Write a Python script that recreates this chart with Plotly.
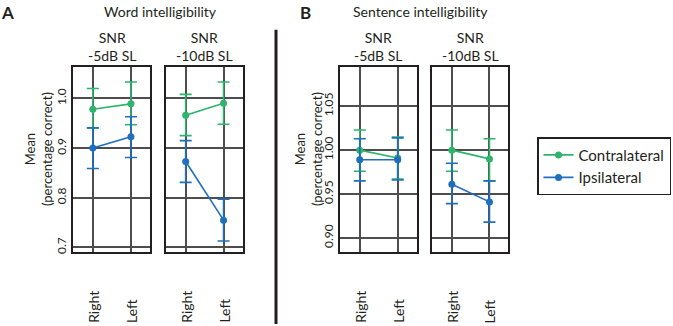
import plotly.graph_objects as go

W, H = 673, 326
FONT = "Lato"
TXT = "#231f20"
GREEN = "#2eb46c"
BLUE = "#1f6fbf"

categories = ["Right", "Left"]
panel_titles = ["SNR<br>-5dB SL", "SNR<br>-10dB SL", "SNR<br>-5dB SL", "SNR<br>-10dB SL"]
series_names = ["Contralateral", "Ipsilateral"]

# Word intelligibility (panel A)
word_5_contra_mean = [0.978, 0.989]
word_5_contra_hi = [1.020, 1.033]
word_5_contra_lo = [0.940, 0.947]
word_5_ipsi_mean = [0.900, 0.923]
word_5_ipsi_hi = [0.941, 0.963]
word_5_ipsi_lo = [0.859, 0.881]
word_10_contra_mean = [0.966, 0.990]
word_10_contra_hi = [1.008, 1.033]
word_10_contra_lo = [0.925, 0.948]
word_10_ipsi_mean = [0.873, 0.755]
word_10_ipsi_hi = [0.915, 0.797]
word_10_ipsi_lo = [0.831, 0.713]

# Sentence intelligibility (panel B)
sent_5_contra_mean = [1.000, 0.991]
sent_5_contra_hi = [1.023, 1.015]
sent_5_contra_lo = [0.976, 0.967]
sent_5_ipsi_mean = [0.989, 0.989]
sent_5_ipsi_hi = [1.013, 1.014]
sent_5_ipsi_lo = [0.965, 0.966]
sent_10_contra_mean = [1.000, 0.990]
sent_10_contra_hi = [1.023, 1.013]
sent_10_contra_lo = [0.976, 0.965]
sent_10_ipsi_mean = [0.961, 0.941]
sent_10_ipsi_hi = [0.985, 0.965]
sent_10_ipsi_lo = [0.939, 0.918]

word_ticks = [0.7, 0.8, 0.9, 1.0]
word_ticktext = ["0.7", "0.8", "0.9", "1.0"]
sent_ticks = [0.90, 0.95, 1.00, 1.05]
sent_ticktext = ["0.90", "0.95", "1.00", "1.05"]

panels = [
    (word_5_contra_mean, word_5_contra_hi, word_5_contra_lo, word_5_ipsi_mean, word_5_ipsi_hi, word_5_ipsi_lo),
    (word_10_contra_mean, word_10_contra_hi, word_10_contra_lo, word_10_ipsi_mean, word_10_ipsi_hi, word_10_ipsi_lo),
    (sent_5_contra_mean, sent_5_contra_hi, sent_5_contra_lo, sent_5_ipsi_mean, sent_5_ipsi_hi, sent_5_ipsi_lo),
    (sent_10_contra_mean, sent_10_contra_hi, sent_10_contra_lo, sent_10_ipsi_mean, sent_10_ipsi_hi, sent_10_ipsi_lo),
]

# layout geometry (pixels)
x_px = [(73, 150), (166, 242.5), (340, 416.7), (432.3, 508.3)]
y_px = (67, 254)
y_ranges = [[0.69, 1.064], [0.69, 1.064], [0.8834, 1.0952], [0.8834, 1.0952]]
x_range = [-0.52, 1.5]

fig = go.Figure()
xpos = list(range(len(categories)))

for i, p in enumerate(panels):
    cm, chi, clo, im, ihi, ilo = p
    xa = "x" if i == 0 else f"x{i+1}"
    ya = "y" if i == 0 else f"y{i+1}"
    for name, col, m, hi, lo in [(series_names[0], GREEN, cm, chi, clo),
                                 (series_names[1], BLUE, im, ihi, ilo)]:
        fig.add_trace(go.Scatter(
            x=xpos, y=m, mode="lines+markers", name=name,
            line=dict(color=col, width=1.6),
            marker=dict(color=col, size=7),
            error_y=dict(type="data", symmetric=False,
                         array=[h - v for h, v in zip(hi, m)],
                         arrayminus=[v - l for v, l in zip(m, lo)],
                         color=col, thickness=1.6, width=6),
            xaxis=xa, yaxis=ya, showlegend=(i == 0), legendrank=1 if name == series_names[0] else 2,
        ))

layout = dict(
    width=W, height=H, margin=dict(l=0, r=0, t=0, b=0),
    paper_bgcolor="white", plot_bgcolor="white",
    font=dict(family=FONT, color=TXT, size=13),
    legend=dict(x=537 / W, y=1 - 138 / H, xanchor="left", yanchor="top",
                bordercolor="#231f20", borderwidth=1.5, bgcolor="white",
                font=dict(size=15, family=FONT, color=TXT),
                itemwidth=30, tracegroupgap=0, traceorder="normal"),
    annotations=[], shapes=[],
)

for i in range(4):
    k = "" if i == 0 else str(i + 1)
    x0, x1 = x_px[i]
    is_word = i < 2
    layout["xaxis" + k] = dict(
        domain=[x0 / W, x1 / W], range=x_range, anchor="y" + k,
        tickvals=xpos, showticklabels=False, ticks="",
        showgrid=True, gridcolor="#4d4d4d", gridwidth=1.5,
        showline=True, mirror=True, linecolor="#231f20", linewidth=2,
        zeroline=False, fixedrange=True,
    )
    layout["yaxis" + k] = dict(
        domain=[1 - y_px[1] / H, 1 - y_px[0] / H], range=y_ranges[i], anchor="x" + k,
        tickvals=word_ticks if is_word else sent_ticks,
        ticktext=word_ticktext if is_word else sent_ticktext,
        showticklabels=(i in (0, 2)), tickangle=-90, ticks="",
        tickfont=dict(size=12, family=FONT, color=TXT),
        showgrid=True, gridcolor="#4d4d4d", gridwidth=1.5,
        showline=True, mirror=True, linecolor="#231f20", linewidth=2,
        zeroline=False, fixedrange=True,
    )
    # panel title
    layout["annotations"].append(dict(
        text=panel_titles[i], x=(x0 + x1) / 2 / W, y=1 - 47 / H, xref="paper", yref="paper",
        showarrow=False, xanchor="center", yanchor="middle",
        font=dict(size=14, family=FONT, color=TXT), align="center",
    ))
    # category labels
    for j, c in enumerate(categories):
        layout["annotations"].append(dict(
            text=c, x=xpos[j], xref="x" + k, y=0, yref="paper", yshift=-1,
            showarrow=False, xanchor="center", yanchor="bottom", textangle=-90,
            font=dict(size=14, family=FONT, color=TXT),
        ))

# y-axis titles
for xc in (38, 308):
    layout["annotations"].append(dict(
        text="Mean<br>(percentage correct)", x=xc / W, y=1 - 150 / H,
        xref="paper", yref="paper", showarrow=False, textangle=-90,
        xanchor="center", yanchor="middle", align="center",
        font=dict(size=13, family=FONT, color=TXT),
    ))

# section titles and letters
layout["annotations"] += [
    dict(text="Word intelligibility", x=160 / W, y=1 - 12 / H, xref="paper", yref="paper",
         showarrow=False, xanchor="center", yanchor="middle", font=dict(size=14, family=FONT, color=TXT)),
    dict(text="Sentence intelligibility", x=420 / W, y=1 - 12 / H, xref="paper", yref="paper",
         showarrow=False, xanchor="center", yanchor="middle", font=dict(size=14, family=FONT, color=TXT)),
    dict(text="<b>A</b>", x=7 / W, y=1 - 13 / H, xref="paper", yref="paper",
         showarrow=False, xanchor="center", yanchor="middle", font=dict(size=17, family=FONT, color=TXT)),
    dict(text="<b>B</b>", x=305 / W, y=1 - 13 / H, xref="paper", yref="paper",
         showarrow=False, xanchor="center", yanchor="middle", font=dict(size=17, family=FONT, color=TXT)),
]

layout["shapes"].append(dict(type="line", xref="paper", yref="paper",
                             x0=276 / W, x1=276 / W, y0=0, y1=1 - 30 / H,
                             line=dict(color="#231f20", width=3)))

fig.update_layout(**layout)
fig.write_html("out.html")
